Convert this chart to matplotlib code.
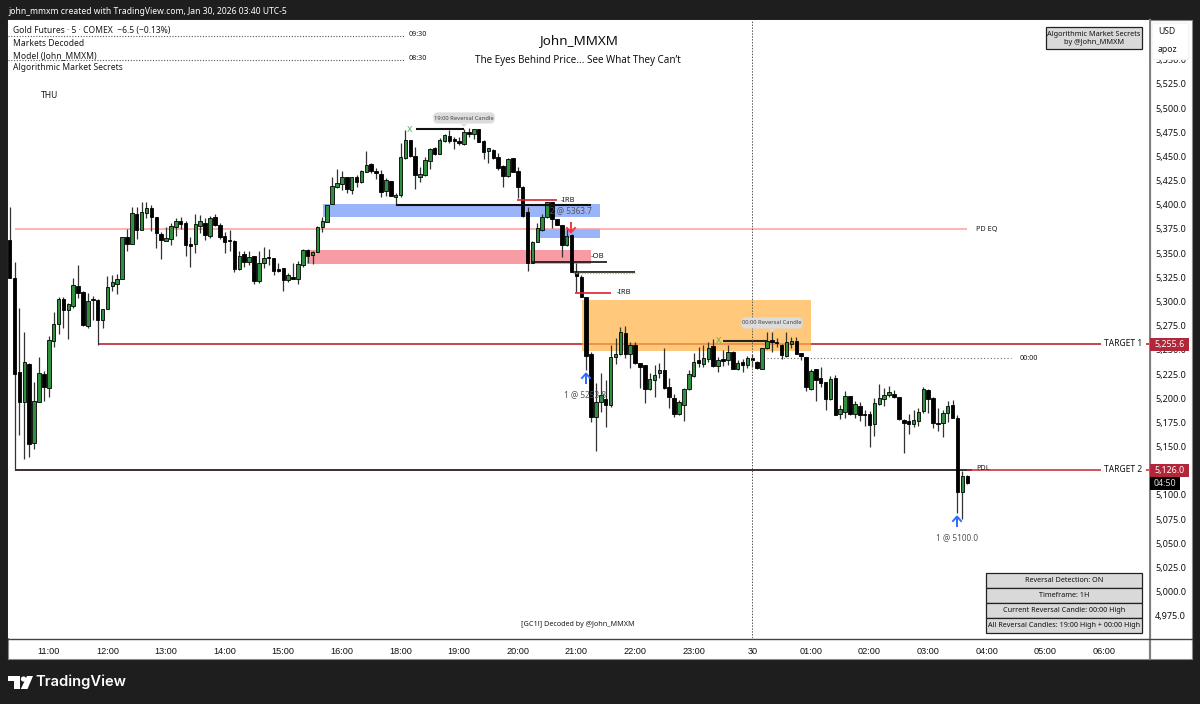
import matplotlib
matplotlib.use("Agg")
import matplotlib.pyplot as plt
from matplotlib.patches import Rectangle, FancyBboxPatch, Circle, Polygon
from matplotlib.ticker import FuncFormatter

plt.rcParams['font.family'] = ['Noto Sans', 'DejaVu Sans']

# ---------- data (5-minute candles, prices) ----------
direction = ("kkkgkggkgg" "gkggkkgkkg" "ggggkgkggk" "kkgggkkkgg" "kgkkkkkgkg"
             "kggkkkkgkg" "gkgggggggk" "gkggkkkgkg" "ggkkgggkgg" "kkkgkgkkgk"
             "kkgkkkkggg" "gkkkgkkkkk" "ggkgggkgkk" "kgggkkkggg" "gkggkgkgkg"
             "kgkkggkkkg" "gkkkgkkkgk" "ggkgkkkggg" "gkkkkgggkk" "kggkkgk")
highs = [5398.0,5341.2,5292.9,5268.1,5236.8,5217.1,5242.3,5228.5,5264.3,5289.5,
         5305.0,5304.3,5298.1,5323.9,5338.1,5310.8,5309.1,5306.0,5302.2,5291.9,
         5326.7,5327.4,5328.1,5367.0,5374.6,5397.3,5398.0,5403.2,5403.2,5399.4,
         5387.4,5372.2,5377.4,5380.8,5386.7,5387.0,5383.6,5367.0,5390.1,5389.4,
         5386.0,5388.4,5390.1,5381.5,5372.2,5373.9,5363.6,5352.5,5352.2,5352.2,
         5347.0,5352.5,5356.7,5353.9,5345.0,5340.1,5334.3,5329.1,5339.4,5341.9,
         5353.9,5353.9,5352.5,5378.3,5386.9,5399.7,5429.0,5436.6,5434.8,5429.0,
         5429.0,5430.7,5435.9,5455.9,5442.8,5437.6,5435.9,5427.9,5424.8,5412.4,
         5463.4,5477.2,5466.9,5459.3,5439.3,5449.7,5458.3,5459.3,5468.6,5473.1,
         5477.2,5470.3,5470.3,5478.3,5478.9,5478.3,5478.3,5466.9,5459.0,5457.2,
         5453.1,5441.0,5447.9,5447.9,5438.6,5419.3,5398.0,5362.5,5380.7,5390.4,
         5403.1,5403.1,5384.9,5379.0,5375.6,5369.4,5339.4,5327.3,5305.0,5248.1,
         5216.1,5225.7,5218.8,5255.0,5261.9,5274.0,5274.6,5258.4,5258.4,5236.7,
         5234.3,5226.4,5234.3,5236.1,5252.2,5220.5,5204.3,5198.1,5210.2,5229.2,
         5247.1,5252.6,5255.0,5258.4,5260.9,5242.3,5249.8,5255.0,5249.1,5239.5,
         5240.2,5243.6,5245.7,5238.1,5251.6,5268.8,5268.8,5261.9,5256.0,5268.8,
         5263.6,5262.9,5247.1,5242.9,5230.5,5229.8,5232.6,5217.1,5223.0,5224.0,
         5192.9,5207.7,5202.2,5197.4,5196.0,5187.7,5187.0,5200.5,5214.6,5210.1,
         5212.5,5208.4,5201.5,5178.4,5183.3,5187.7,5189.5,5211.9,5209.1,5201.5,
         5189.5,5187.7,5197.4,5198.1,5182.6,5125.0,5120.5]
body_tops = [5363.2,5324.6,5227.1,5237.1,5235.0,5197.5,5226.4,5225.0,5260.5,5277.1,
             5302.2,5302.2,5297.1,5316.7,5316.0,5310.2,5300.9,5302.6,5301.5,5291.9,
             5315.3,5319.8,5322.9,5367.0,5366.3,5391.5,5390.8,5392.5,5396.3,5396.3,
             5387.4,5369.8,5365.3,5378.0,5382.9,5383.6,5381.5,5359.1,5379.8,5382.9,
             5381.1,5386.7,5387.4,5378.7,5367.7,5363.2,5362.5,5347.0,5348.8,5345.7,
             5347.0,5340.1,5344.6,5345.3,5344.6,5333.6,5334.3,5327.0,5325.7,5338.8,
             5353.2,5353.2,5351.4,5377.3,5383.5,5399.7,5419.0,5422.1,5428.3,5428.3,
             5428.3,5428.6,5434.5,5441.0,5441.7,5435.2,5431.7,5425.2,5424.8,5410.0,
             5449.0,5466.9,5466.9,5450.3,5431.4,5445.9,5457.9,5458.6,5467.2,5471.7,
             5471.4,5467.9,5466.2,5475.2,5475.5,5477.9,5477.9,5466.2,5458.3,5456.5,
             5449.7,5440.0,5447.2,5447.9,5435.2,5418.6,5392.1,5361.8,5375.9,5386.9,
             5402.4,5402.4,5384.9,5379.0,5367.6,5368.7,5329.7,5325.6,5304.3,5246.0,
             5196.4,5203.3,5198.8,5242.9,5245.7,5268.8,5267.1,5254.7,5254.7,5236.4,
             5234.0,5219.5,5224.0,5229.5,5229.2,5211.9,5199.9,5195.7,5209.5,5224.7,
             5237.1,5239.5,5241.2,5252.2,5253.6,5239.5,5240.5,5247.4,5248.1,5236.1,
             5237.4,5241.9,5241.9,5237.8,5251.6,5259.5,5260.5,5257.8,5255.3,5258.4,
             5259.1,5259.1,5246.7,5242.9,5227.8,5229.8,5221.2,5216.8,5219.9,5221.2,
             5188.4,5202.5,5201.9,5193.6,5191.9,5183.6,5183.6,5194.6,5199.8,5203.6,
             5206.0,5204.3,5201.2,5177.7,5176.7,5177.7,5186.0,5209.1,5208.1,5199.8,
             5173.9,5184.3,5191.9,5192.9,5179.1,5119.5,5119.5]
body_bottoms = [5324.6,5224.7,5196.4,5195.8,5152.3,5153.4,5195.8,5212.0,5210.2,5259.5,
                5276.4,5291.2,5291.6,5295.3,5308.8,5275.4,5274.3,5301.2,5280.9,5280.9,
                5292.2,5315.7,5318.4,5323.3,5359.1,5359.8,5373.6,5373.6,5391.8,5387.4,
                5370.5,5363.6,5362.5,5364.9,5377.4,5380.5,5358.4,5357.7,5359.1,5378.4,
                5368.7,5368.0,5379.4,5366.3,5361.8,5362.2,5333.9,5333.6,5340.8,5341.2,
                5321.5,5321.2,5340.1,5344.6,5331.9,5331.5,5322.2,5322.2,5323.6,5323.3,
                5337.7,5347.3,5348.3,5351.4,5377.3,5382.5,5400.7,5418.3,5421.7,5415.9,
                5415.5,5423.8,5423.5,5434.1,5435.2,5432.4,5413.5,5414.2,5409.0,5407.6,
                5409.7,5447.9,5450.7,5430.4,5429.0,5430.4,5445.5,5452.8,5452.8,5465.9,
                5466.2,5466.2,5463.4,5462.7,5473.4,5473.1,5465.2,5454.8,5455.9,5447.9,
                5437.6,5429.7,5429.7,5434.1,5418.6,5388.3,5340.1,5340.1,5361.8,5373.8,
                5386.9,5384.9,5379.0,5358.3,5358.3,5330.8,5326.6,5304.9,5243.6,5180.9,
                5180.9,5195.7,5193.0,5192.6,5242.6,5245.7,5245.7,5246.0,5236.1,5232.3,
                5209.2,5209.2,5218.5,5226.1,5210.2,5200.9,5183.7,5183.7,5193.3,5209.5,
                5222.6,5236.1,5235.0,5240.9,5233.6,5233.6,5238.8,5239.5,5230.5,5229.8,
                5234.0,5234.3,5239.5,5230.9,5230.5,5251.6,5257.8,5256.7,5244.7,5243.6,
                5256.4,5245.7,5243.6,5211.2,5209.5,5218.8,5216.1,5198.8,5198.8,5182.6,
                5183.9,5186.0,5183.9,5183.9,5182.6,5182.2,5171.9,5173.3,5193.9,5199.1,
                5203.2,5200.8,5178.1,5174.6,5172.9,5173.6,5176.4,5186.4,5198.8,5173.9,
                5173.3,5173.9,5185.0,5179.8,5103.3,5103.3,5111.9]
lows = [5324.6,5125.8,5162.0,5137.5,5139.6,5147.2,5195.8,5197.1,5200.9,5253.3,
        5266.0,5272.9,5260.9,5293.6,5303.3,5275.0,5272.9,5280.9,5255.4,5272.9,
        5292.2,5311.2,5307.4,5323.3,5352.5,5359.8,5364.3,5373.6,5386.7,5373.2,
        5355.6,5343.9,5362.5,5358.1,5367.7,5374.6,5347.4,5335.3,5350.5,5370.5,
        5363.6,5365.6,5378.0,5364.3,5349.8,5352.5,5330.1,5332.9,5335.3,5337.7,
        5318.1,5318.8,5334.3,5337.7,5327.0,5330.8,5311.2,5320.5,5322.9,5317.7,
        5335.9,5339.4,5338.3,5351.4,5372.1,5382.5,5400.7,5417.3,5414.9,5412.4,
        5411.1,5418.6,5422.1,5434.1,5432.4,5426.2,5407.6,5409.0,5409.0,5400.0,
        5408.3,5447.6,5449.7,5416.6,5423.8,5430.0,5436.6,5451.4,5452.1,5465.2,
        5463.4,5457.6,5461.7,5461.7,5469.6,5467.6,5465.2,5446.9,5442.8,5446.9,
        5435.9,5418.6,5429.0,5433.8,5406.6,5387.6,5331.8,5339.4,5361.8,5373.2,
        5385.9,5375.6,5379.0,5346.3,5357.3,5330.8,5310.1,5304.2,5229.2,5175.0,
        5145.8,5186.1,5170.6,5191.2,5235.4,5244.7,5241.2,5230.9,5235.4,5210.9,
        5194.7,5208.5,5200.9,5220.5,5209.5,5189.5,5180.9,5182.6,5176.8,5208.5,
        5221.6,5232.6,5232.6,5237.8,5232.6,5226.7,5233.6,5234.3,5229.8,5229.2,
        5227.4,5231.6,5232.6,5230.2,5230.5,5250.5,5248.1,5253.3,5240.2,5242.9,
        5251.6,5245.4,5239.5,5207.8,5208.5,5197.5,5211.9,5187.8,5198.1,5182.6,
        5178.1,5179.1,5182.6,5179.1,5176.4,5171.2,5149.8,5160.9,5192.9,5192.2,
        5201.5,5199.8,5177.4,5142.9,5162.9,5169.8,5171.2,5185.0,5184.3,5169.5,
        5166.4,5160.2,5175.0,5179.1,5080.9,5075.0,5111.2]
hour_ticks = [8,20,32,44,56,68,80,92,104,116,128,140,152,164,176,188,200,212,224]
hour_labels = ["11:00","12:00","13:00","14:00","15:00","16:00","18:00","19:00","20:00",
               "21:00","22:00","23:00","30","01:00","02:00","03:00","04:00","05:00","06:00"]
price_ticks = [4975,5000,5025,5050,5075,5100,5150,5175,5200,5225,5250,5275,5300,
               5325,5350,5375,5400,5425,5450,5475,5500,5525,5550]
pd_eq = 5375.0
target_1 = 5255.6
target_2 = 5126.0
panel_rows = ["Reversal Detection: ON","Timeframe: 1H",
              "Current Reversal Candle: 00:00 High",
              "All Reversal Candles: 19:00 High + 00:00 High"]

# ---------- figure and layers ----------
W, H = 1200, 704
DARK = "#1e1e1e"
GREEN = "#2f8f3f"
RED = "#b2263a"
fig = plt.figure(figsize=(W/100, H/100), dpi=100, facecolor=DARK)

def axes_rect(x0, y0, x1, y1):
    return [x0/W, 1-y1/H, (x1-x0)/W, (y1-y0)/H]

back = fig.add_axes([0,0,1,1], zorder=0)
back.set_xlim(0,W); back.set_ylim(H,0); back.axis("off")
back.add_patch(Rectangle((8,20),1184,639,fc="white",ec="#8a8a8a",lw=0.8))
back.plot([1149.5,1149.5],[20,659],color="#808080",lw=1.6)
back.plot([8,1192],[639,639],color="#444444",lw=1.0)

ax = fig.add_axes(axes_rect(8,20,1149,638), zorder=1)
ax.set_facecolor("white")
ax.set_xlim(-0.348,233.2)
ax.set_ylim(4952.1,5591.0)
for s in ax.spines.values():
    s.set_visible(False)
ax.yaxis.tick_right()
ax.set_yticks(price_ticks)
ax.yaxis.set_major_formatter(FuncFormatter(lambda v,_: f"{v:,.1f}"))
ax.tick_params(axis="y",length=0,pad=4.3,labelsize=6.5,labelcolor="#111111")
ax.set_xticks(hour_ticks)
ax.set_xticklabels(hour_labels,family="Liberation Sans",fontsize=6.6,color="#111111")
ax.tick_params(axis="x",length=0,pad=6.5)

# levels (beneath the zones)
ax.hlines(pd_eq,1,196,color="#ff9c9c",lw=1.1,zorder=1)
ax.hlines(target_1,18,233.2,color="#b5121f",lw=1.1,zorder=1)
ax.hlines(target_2,1,197,color="#1a0a0a",lw=1.2,zorder=1)
ax.hlines(target_2,196,233.2,color="#c8222f",lw=1.1,zorder=1)
ax.hlines(5241.5,155,205,color="#666666",lw=0.8,linestyles=(0,(1,2)),zorder=1)

# zones
ax.add_patch(Rectangle((64.1,5387.0),56.7,13.7,fc="#9ab4fa",ec="none",zorder=2))
ax.add_patch(Rectangle((108.1,5366.0),12.7,8.6,fc="#9ab4fa",ec="none",zorder=2))
ax.add_patch(Rectangle((60.9,5338.4),58.1,14.8,fc="#f79ba5",ec="none",zorder=2))
ax.add_patch(Rectangle((117.1,5248.8),46.9,52.6,fc="#ffb347",alpha=0.72,ec="none",zorder=2))

# candles
xs = list(range(len(highs)))
ax.vlines(xs,lows,highs,color="#333333",lw=0.9,zorder=3)
for i,d in enumerate(direction):
    top,bot = body_tops[i],body_bottoms[i]
    ax.bar(i,max(top-bot,1.2),bottom=bot,width=0.72,
           color=GREEN if d=="g" else "black",edgecolor="black",lw=0.6,zorder=4)

# structure lines
ax.hlines(5399.7,79,119,color="#111111",lw=1.5,zorder=5)
ax.hlines(5478.3,83.1,93,color="#111111",lw=1.5,zorder=5)
ax.hlines(5259.5,146,155,color="#222222",lw=1.5,zorder=5)
ax.hlines(5340.8,107,122.3,color="#111111",lw=1.2,zorder=5)
ax.hlines(5330.4,115.4,128,color="black",lw=1.1,zorder=5)
ax.hlines(5329.4,115.4,128,color="#b8b878",lw=1.0,linestyles=(0,(1,1)),zorder=5)
ax.hlines(5404.6,103.9,112,color="#e0202e",lw=1.2,zorder=5)
ax.hlines(5308.7,115.8,123,color="#e0202e",lw=1.2,zorder=5)
ax.vlines(152,4952.1,5591.0,color="#555555",lw=0.7,linestyles=(0,(1.5,1.5)),zorder=6)
ax.text(81.8,5478.3,"x",color="#5cb860",fontsize=7.5,ha="center",va="center",zorder=6)
ax.text(145,5259.5,"x",color="#5cb860",fontsize=7.5,ha="center",va="center",zorder=6)

# overlay in pixel coordinates for panels and captions
ov = fig.add_axes([0,0,1,1], zorder=5)
ov.set_xlim(0,W); ov.set_ylim(H,0); ov.axis("off"); ov.patch.set_alpha(0)

def t(x,y,s,size=6.15,color="#1a1a1a",ha="left",va="center",**kw):
    return ov.text(x,y,s,fontsize=size,color=color,ha=ha,va=va,**kw)

# header
t(8,11,"john_mmxm created with TradingView.com, Jan 30, 2026 03:40 UTC-5",size=6.15,color="white")
t(13,31,"Gold Futures · 5 · COMEX  −6.5 (−0.13%)")
t(13,43,"Markets Decoded")
t(13,56,"Model (John_MMXM)")
t(13,68,"Algorithmic Market Secrets")
t(41,96,"THU")
for y,lab in [(36,"09:30"),(60,"08:30")]:
    ov.plot([8,405],[y,y],color="#555555",lw=0.8,ls=(0,(1,1.5)))
    t(409,y-1,lab,size=5.2)
t(578,41,"John_MMXM",size=9.7,ha="center",color="#111111")
t(578,60,"The Eyes Behind Price... See What They Can’t",size=7.1,ha="center",color="#111111")
t(578,625,"[GC1!] Decoded by @John_MMXM",size=5.2,ha="center")

# tags
for cx,cy,lab,w in [(464,118,"19:00 Reversal Candle",61),(772,323,"00:00 Reversal Candle",61)]:
    ov.add_patch(FancyBboxPatch((cx-w/2+2,cy-3.5),w-4,7,boxstyle="round,pad=0,rounding_size=2",
                                fc="#dcdcdc",ec="#dcdcdc",lw=3))
    ov.add_patch(Polygon([(cx-3,cy+6),(cx+3,cy+6),(cx,cy+9)],fc="#dcdcdc",ec="none"))
    t(cx,cy,lab,size=4.2,ha="center",color="#444444")

# level and order captions
t(976,229,"PD EQ",size=5.2)
t(976,469,"PDL",size=5.2)
t(1020,358,"00:00",size=5.2)
t(561,200,"-IRB",size=5.4)
t(617,293,"-IRB",size=5.4)
t(591,256,"-OB",size=5.6,weight="bold")
t(550,210.5,"2 @ 5363.7",size=5.9,color="#555555")
t(564,395,"1 @ 5253.8",size=5.9,color="#555555")
t(936,538,"1 @ 5100.0",size=5.9,color="#555555")
for lab,y in [("TARGET 1",344),("TARGET 2",470)]:
    t(1123.5,y,lab,size=6.1,ha="center",color="#111111",
      bbox=dict(fc="white",ec="none",pad=2.5))

# arrows
def arrow(x,y,color,up=True):
    d = 1 if up else -1
    ov.plot([x,x],[y-5*d,y+5*d],color=color,lw=1.4,solid_capstyle="butt")
    ov.plot([x-4,x,x+4],[y-1*d,y-5.5*d,y-1*d],color=color,lw=1.4)
arrow(586,379,"#2f6bff")
arrow(957,522,"#2f6bff")
arrow(571,227,"#f23645",up=False)

# top right caption
ov.add_patch(Rectangle((1045.5,27),96.5,22,fc="#d9d9d9",ec="#222222",lw=0.9))
t(1093.7,34,"Algorithmic Market Secrets",size=5.3,ha="center",color="#111111")
t(1093.7,42,"by @John_MMXM",size=5.3,ha="center",color="#111111")

# USD box
ov.add_patch(FancyBboxPatch((1152,23),37,36.5,boxstyle="round,pad=0,rounding_size=2",fc="white",ec="#f0f0f0",lw=0.8))
t(1158,32,"USD",size=6.2)
t(1158,50,"apoz",size=6.2)

# bottom right panel
rows_y = [573,588,603,618]
for y,lab in zip(rows_y,panel_rows):
    ov.add_patch(Rectangle((985.5,y),156.5,14.6,fc="#d9d9d9",ec="#222222",lw=0.9))
    t(1063.7,y+7.3,lab,size=5.2,ha="center",color="#111111")

# price tags
ov.add_patch(Rectangle((1150,338),39,13,fc=RED,ec="none"))
t(1169.5,344.5,f"{target_1:,.1f}",size=6.4,color="white",ha="center",weight="bold")
ov.add_patch(Rectangle((1150,463.5),39,13,fc=RED,ec="none"))
t(1169.5,470,f"{target_2:,.1f}",size=6.4,color="white",ha="center",weight="bold")
ov.add_patch(Rectangle((1150,477),30,13,fc="black",ec="none"))
t(1165,483.5,"04:50",size=6.4,color="#dddddd",ha="center")

# footer logo
ov.add_patch(Polygon([(8,676),(20,676),(20,689),(14,689),(14,681),(8,681)],fc="white",ec="none"))
ov.add_patch(Circle((23.5,679),2.6,fc="white",ec="none"))
ov.add_patch(Polygon([(27,676),(33,676),(27.5,689),(20.8,689)],fc="white",ec="none"))
ov.text(35,682,"TradingView",fontsize=10.6,color="white",family="Inter",weight="semibold",ha="left",va="center")

fig.savefig("out.png",dpi=100,facecolor=DARK)
